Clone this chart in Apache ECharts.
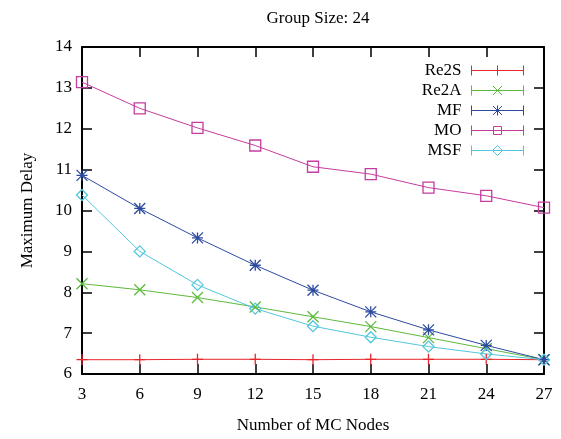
<!DOCTYPE html>
<html><head><meta charset="utf-8">
<script src="https://cdn.jsdelivr.net/npm/echarts@6/dist/echarts.min.js"></script>
<style>html,body{margin:0;padding:0;background:#fff}#c{width:561px;height:439px}</style>
</head><body><div id="c"></div>
<script>
const nodes = [3, 6, 9, 12, 15, 18, 21, 24, 27];
const re2s = [6.35, 6.35, 6.36, 6.36, 6.35, 6.36, 6.36, 6.36, 6.35];
const re2a = [8.21, 8.06, 7.87, 7.64, 7.40, 7.16, 6.89, 6.62, 6.35];
const mf   = [10.86, 10.05, 9.33, 8.66, 8.05, 7.52, 7.08, 6.70, 6.35];
const mo   = [13.14, 12.50, 12.02, 11.59, 11.07, 10.89, 10.56, 10.36, 10.07];
const msf  = [10.38, 9.00, 8.18, 7.60, 7.17, 6.90, 6.67, 6.49, 6.35];
const seriesNames = ['Re2S', 'Re2A', 'MF', 'MO', 'MSF'];
const xTicks = [3, 6, 9, 12, 15, 18, 21, 24, 27];
const yTicks = [6, 7, 8, 9, 10, 11, 12, 13, 14];

const colors = ['#e8252b', '#5cb93c', '#2c4aa0', '#c43c9e', '#52c6dc'];
const markers = [
  'path://M0,5L10,5M5,0L5,10',
  'path://M0,0L10,10M10,0L0,10',
  'path://M0,0L10,10M10,0L0,10M0,5L10,5M5,0L5,10',
  'path://M0,0L10,0L10,10L0,10Z',
  'path://M5,0L10,5L5,10L0,5Z'
];
const base = 'M0,0L0,10M52,0L52,10M0,5L52,5';
const legendMarkers = [
  'M26,0L26,10',
  'M21.5,0.5L30.5,9.5M30.5,0.5L21.5,9.5',
  'M21.5,0.5L30.5,9.5M30.5,0.5L21.5,9.5M26,0L26,10',
  'M22,1L30,1L30,9L22,9Z',
  'M26,0L31,5L26,10L21,5Z'
];
const values = [re2s, re2a, mf, mo, msf];
const font = 'Liberation Serif';

const chart = echarts.init(document.getElementById('c'), null, {renderer: 'canvas'});
const axisCommon = {
  axisLine: {show: true, onZero: false, lineStyle: {color: '#000', width: 2}},
  axisTick: {show: true, inside: true, length: 10, lineStyle: {color: '#000', width: 1.5}},
  splitLine: {show: false}
};
chart.setOption({
  animation: false,
  title: {
    text: 'Group Size: 24', left: 313, top: 5, textAlign: 'center',
    textStyle: {fontFamily: font, fontSize: 17, fontWeight: 'normal', color: '#000'}
  },
  grid: {left: 82, right: 17, top: 47, bottom: 61, containLabel: false},
  legend: {
    orient: 'vertical', align: 'right', right: 32, top: 57,
    itemWidth: 52, itemHeight: 10, itemGap: 3,
    textStyle: {fontFamily: font, fontSize: 17, color: '#000', lineHeight: 17, padding: [0, 5, 0, 0]},
    data: seriesNames.map((n, i) => ({
      name: n,
      icon: 'path://' + base + legendMarkers[i],
      itemStyle: {color: 'rgba(0,0,0,0)', borderColor: colors[i], borderWidth: 1}
    }))
  },
  xAxis: [
    Object.assign({
      type: 'value', min: 3, max: 27, interval: 3, position: 'bottom',
      name: 'Number of MC Nodes', nameLocation: 'middle', nameGap: 43,
      nameTextStyle: {fontFamily: font, fontSize: 17, color: '#000'},
      axisLabel: {fontFamily: font, fontSize: 17, color: '#000', margin: 12,
        formatter: v => xTicks.includes(v) ? String(v) : ''}
    }, axisCommon),
    Object.assign({
      type: 'value', min: 3, max: 27, interval: 3, position: 'top',
      axisLabel: {show: false}
    }, axisCommon)
  ],
  yAxis: [
    Object.assign({
      type: 'value', min: 6, max: 14, interval: 1, position: 'left',
      name: 'Maximum Delay', nameLocation: 'middle', nameGap: 46, nameRotate: 90,
      nameTextStyle: {fontFamily: font, fontSize: 17, color: '#000'},
      axisLabel: {fontFamily: font, fontSize: 17, color: '#000', margin: 10,
        formatter: v => yTicks.includes(v) ? String(v) : ''}
    }, axisCommon),
    Object.assign({
      type: 'value', min: 6, max: 14, interval: 1, position: 'right',
      axisLabel: {show: false}
    }, axisCommon)
  ],
  series: seriesNames.map((n, i) => ({
    name: n, type: 'line', xAxisIndex: 0, yAxisIndex: 0,
    data: nodes.map((x, k) => [x, values[i][k]]),
    symbol: markers[i], symbolSize: 11, showSymbol: true, clip: false,
    lineStyle: {color: colors[i], width: 1},
    itemStyle: {color: 'rgba(0,0,0,0)', borderColor: colors[i], borderWidth: 1.3},
    emphasis: {disabled: true}
  }))
});
</script></body></html>
